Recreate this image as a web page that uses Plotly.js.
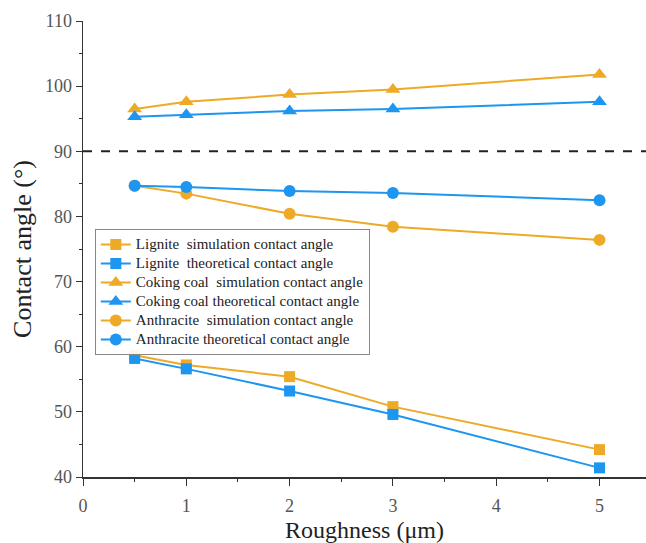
<!DOCTYPE html>
<html><head><meta charset="utf-8">
<script src="https://cdn.plot.ly/plotly-3.0.1.min.js"></script>
<style>html,body{margin:0;padding:0;background:#fff}#chart{width:646px;height:543px}
.legendtext{font-size:15px !important;}</style>
</head><body><div id="chart"></div>
<script>
const roughness = [0.5, 1, 2, 3, 5];
const ligniteSim = [58.7, 57.2, 55.4, 50.8, 44.2];
const ligniteTheo = [58.2, 56.6, 53.2, 49.6, 41.4];
const cokingSim = [96.5, 97.6, 98.7, 99.5, 101.8];
const cokingTheo = [95.3, 95.6, 96.2, 96.5, 97.6];
const anthraciteSim = [84.7, 83.5, 80.4, 78.4, 76.4];
const anthraciteTheo = [84.7, 84.5, 83.9, 83.6, 82.5];
const seriesNames = [
  "Lignite  simulation contact angle",
  "Lignite  theoretical contact angle",
  "Coking coal  simulation contact angle",
  "Coking coal theoretical contact angle",
  "Anthracite  simulation contact angle",
  "Anthracite theoretical contact angle"
];
const thresholdX = [0, 5.45];
const thresholdY = [90, 90];

const ORANGE = "rgb(236,170,38)";
const BLUE = "rgb(28,150,240)";
function tr(y, name, color, symbol, size) {
  return {x: roughness, y: y, name: name, type: "scatter", mode: "lines+markers",
    line: {color: color, width: 2}, marker: {color: color, symbol: symbol, size: size}};
}
const data = [
  tr(ligniteSim, seriesNames[0], ORANGE, "square", 11),
  tr(ligniteTheo, seriesNames[1], BLUE, "square", 11),
  tr(cokingSim, seriesNames[2], ORANGE, "triangle-up", 13),
  tr(cokingTheo, seriesNames[3], BLUE, "triangle-up", 13),
  tr(anthraciteSim, seriesNames[4], ORANGE, "circle", 12),
  tr(anthraciteTheo, seriesNames[5], BLUE, "circle", 12),
  {x: thresholdX, y: thresholdY, type: "scatter", mode: "lines", showlegend: false,
   line: {color: "#222", width: 2, dash: "dash"}, hoverinfo: "skip"}
];
const serif = "'Liberation Serif', 'DejaVu Serif', serif";
const layout = {
  width: 646, height: 543,
  margin: {l: 83, r: 0, t: 21, b: 66},
  paper_bgcolor: "#fff", plot_bgcolor: "#fff",
  font: {family: serif, color: "#333"},
  showlegend: true,
  legend: {x: 0.021, y: 0.544, xanchor: "left", yanchor: "top",
    bgcolor: "rgba(255,255,255,0.9)", bordercolor: "#888", borderwidth: 1,
    font: {family: serif, size: 12, color: "#222"}, tracegroupgap: 0, itemwidth: 30},
  xaxis: {range: [0, 5.45], dtick: 1, tick0: 0, showgrid: false, zeroline: false,
    showline: true, linecolor: "#333", linewidth: 1.5, ticks: "outside", ticklen: 7,
    tickcolor: "#333", tickfont: {family: serif, size: 18, color: "#555"}, ticklabelstandoff: 5,
    minor: {dtick: 0.5, tick0: 0, ticks: "outside", ticklen: 3, tickcolor: "#333"},
    title: {text: "Roughness (\u03bcm)", font: {family: serif, size: 24, color: "#222"}, standoff: 13}},
  yaxis: {range: [40, 110], dtick: 10, showgrid: false, zeroline: false,
    showline: true, linecolor: "#333", linewidth: 1.5, ticks: "outside", ticklen: 6,
    tickcolor: "#333", tickfont: {family: serif, size: 18, color: "#555"},
    minor: {dtick: 5, ticks: "outside", ticklen: 3, tickcolor: "#333"},
    title: {text: "Contact angle (\u00b0)", font: {family: serif, size: 26, color: "#222"}, standoff: 6}}
};
Plotly.newPlot("chart", data, layout, {displayModeBar: false, staticPlot: true});
</script></body></html>
